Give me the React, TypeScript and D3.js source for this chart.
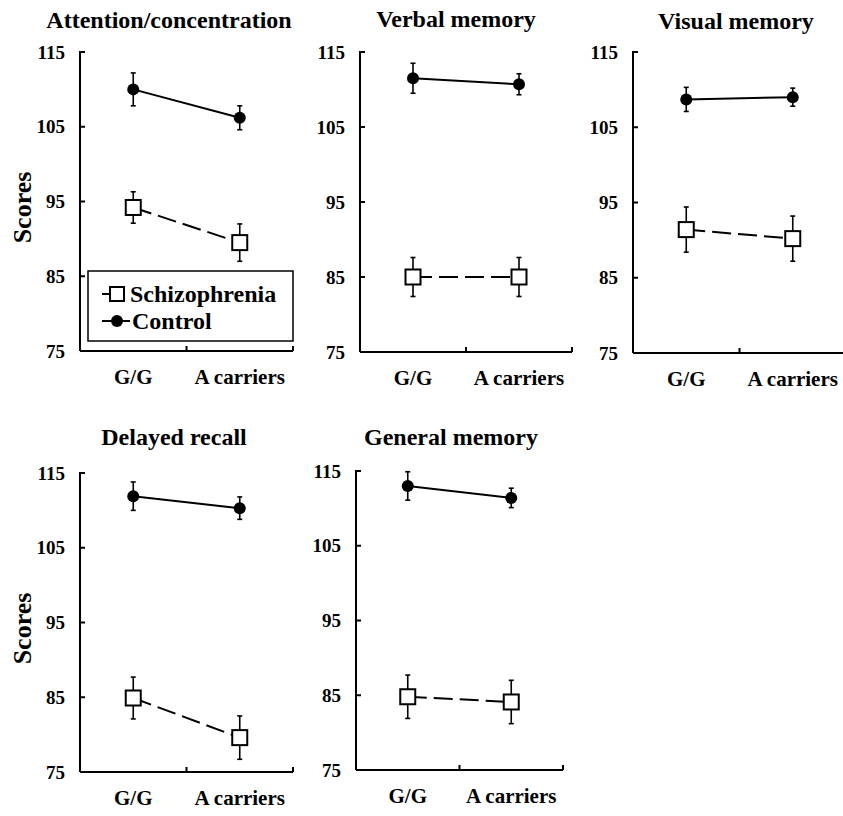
import React from 'react';
import { scaleBand, scaleLinear, line } from 'd3';

const panelTitles = ['Attention/concentration', 'Verbal memory', 'Visual memory', 'Delayed recall', 'General memory'];
const genotypes = ['G/G', 'A carriers'];
const yTicks = [75, 85, 95, 105, 115];

// means and error (SE) per panel, [G/G, A carriers]
const schizoMean = [[94.2, 89.5], [85.0, 85.0], [91.4, 90.2], [84.9, 79.6], [84.8, 84.1]];
const schizoErr = [[2.1, 2.5], [2.6, 2.6], [3.0, 3.0], [2.8, 2.9], [2.9, 2.9]];
const controlMean = [[110.0, 106.2], [111.5, 110.7], [108.7, 109.0], [111.9, 110.3], [113.0, 111.4]];
const controlErr = [[2.2, 1.6], [2.0, 1.4], [1.6, 1.2], [1.9, 1.5], [1.9, 1.3]];
const legendLabels = ['Schizophrenia', 'Control'];

// panel frames on the page
const frames = [
  { x0: 80, x1: 293, y0: 52, y1: 351, tx: 169, ty: 28, ylab: true, legend: true },
  { x0: 360, x1: 572, y0: 52, y1: 352, tx: 456, ty: 27 },
  { x0: 633, x1: 846, y0: 52, y1: 353, tx: 736, ty: 29 },
  { x0: 80, x1: 293, y0: 473, y1: 772, tx: 174, ty: 445, ylab: true },
  { x0: 356, x1: 563, y0: 471, y1: 770, tx: 451, ty: 445 },
];

const FONT = 'Liberation Serif, Times New Roman, serif';

const Panel = ({ i }: { i: number }) => {
  const f: any = frames[i];
  const x = scaleBand().domain(genotypes).range([f.x0, f.x1]);
  const y = scaleLinear().domain([75, 115]).range([f.y1, f.y0]);
  const cx = (g: string) => (x(g) as number) + x.bandwidth() / 2;
  const path = line<number>()
    .x((d, j) => cx(genotypes[j]))
    .y(d => y(d));

  const errBars = (means: number[], errs: number[]) =>
    means.map((m, j) => {
      const px = cx(genotypes[j]);
      return (
        <g key={j} stroke="#000" strokeWidth={1.6}>
          <line x1={px} x2={px} y1={y(m - errs[j])} y2={y(m + errs[j])} />
          <line x1={px - 2.5} x2={px + 2.5} y1={y(m - errs[j])} y2={y(m - errs[j])} />
          <line x1={px - 2.5} x2={px + 2.5} y1={y(m + errs[j])} y2={y(m + errs[j])} />
        </g>
      );
    });

  return (
    <g style={{ fontFamily: FONT, fontWeight: 'bold' }} fill="#000">
      <text x={f.tx} y={f.ty} textAnchor="middle" fontSize={24}>
        {panelTitles[i]}
      </text>
      {/* y axis */}
      <line x1={f.x0} x2={f.x0} y1={f.y0 - 1} y2={f.y1} stroke="#000" strokeWidth={2} />
      {yTicks.map(t => (
        <g key={t}>
          <line x1={f.x0} x2={f.x0 + 5} y1={y(t)} y2={y(t)} stroke="#000" strokeWidth={2} />
          <text x={f.x0 - 15} y={y(t)} dy="0.35em" textAnchor="end" fontSize={19}>
            {t}
          </text>
        </g>
      ))}
      {/* x axis */}
      <line x1={f.x0} x2={f.x1} y1={f.y1} y2={f.y1} stroke="#000" strokeWidth={2} />
      {[1, 2].map(k => (
        <line key={k} x1={f.x0 + k * x.bandwidth()} x2={f.x0 + k * x.bandwidth()} y1={f.y1} y2={f.y1 - 5} stroke="#000" strokeWidth={2} />
      ))}
      {genotypes.map(g => (
        <text key={g} x={cx(g)} y={f.y1 + 33} textAnchor="middle" fontSize={21}>
          {g}
        </text>
      ))}
      {f.ylab && (
        <text
          transform={`translate(31,${(f.y0 + f.y1) / 2 + 6}) rotate(-90)`}
          textAnchor="middle"
          fontSize={26}
        >
          Scores
        </text>
      )}
      {/* series */}
      <path d={path(controlMean[i]) as string} fill="none" stroke="#000" strokeWidth={2} />
      <path d={path(schizoMean[i]) as string} fill="none" stroke="#000" strokeWidth={2} strokeDasharray="19,7" />
      {errBars(controlMean[i], controlErr[i])}
      {errBars(schizoMean[i], schizoErr[i])}
      {controlMean[i].map((m, j) => (
        <circle key={j} cx={cx(genotypes[j])} cy={y(m)} r={6} fill="#000" />
      ))}
      {schizoMean[i].map((m, j) => (
        <rect key={j} x={cx(genotypes[j]) - 7.5} y={y(m) - 7.5} width={15} height={15} fill="#fff" stroke="#000" strokeWidth={2} />
      ))}
      {f.legend && (
        <g>
          <rect x={88} y={271} width={205} height={70} fill="#fff" stroke="#000" strokeWidth={1.5} />
          <line x1={102} x2={110} y1={294} y2={294} stroke="#000" strokeWidth={2} />
          <rect x={110} y={287} width={14} height={14} fill="#fff" stroke="#000" strokeWidth={2} />
          <text x={130} y={302} fontSize={24}>{legendLabels[0]}</text>
          <line x1={102} x2={130} y1={321} y2={321} stroke="#000" strokeWidth={2} />
          <circle cx={117} cy={321} r={6} fill="#000" />
          <text x={132} y={329} fontSize={24}>{legendLabels[1]}</text>
        </g>
      )}
    </g>
  );
};

const App = () => (
  <svg width={843} height={816} style={{ position: 'absolute', left: 0, top: 0, background: '#fff' }}>
    {frames.map((f, i) => (
      <Panel key={i} i={i} />
    ))}
  </svg>
);

export default App;
